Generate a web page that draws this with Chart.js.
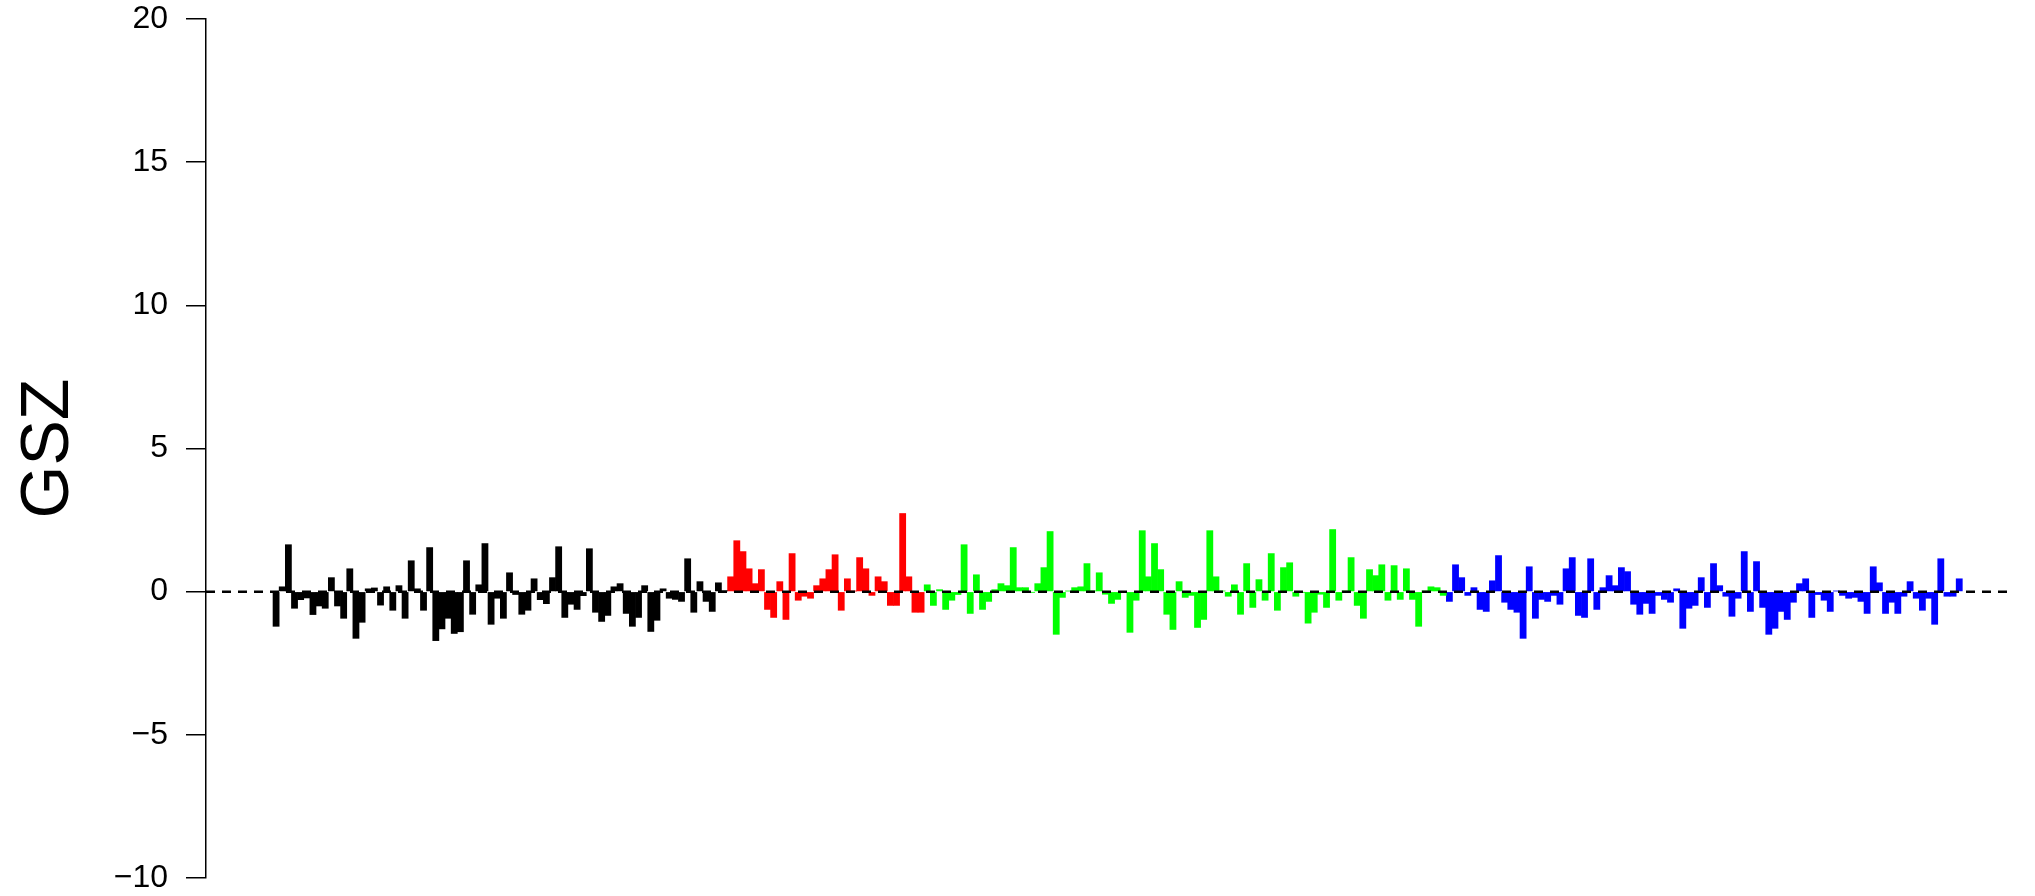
<!DOCTYPE html>
<html>
<head>
<meta charset="utf-8">
<script src="https://cdn.jsdelivr.net/npm/chart.js@4.4.1/dist/chart.umd.min.js"></script>
<style>
  html, body { margin: 0; padding: 0; background: #fff; }
  #wrap { width: 2035px; height: 896px; position: relative; }
</style>
</head>
<body>
<div id="wrap"><canvas id="chart"></canvas></div>
<script>
// ----- data (GSZ per bar) -----
const blackValues = [
  -1.21, 0.17, 1.64, -0.58, -0.28, -0.22, -0.80, -0.50, -0.58, 0.49,
  -0.50, -0.93, 0.80, -1.63, -1.07, 0.10, 0.13, -0.47, 0.17, -0.65,
  0.21, -0.93, 1.08, 0.10, -0.65, 1.54, -1.71, -1.30, -0.93, -1.46,
  -1.40, 1.08, -0.79, 0.24, 1.68, -1.14, -0.23, -0.93, 0.66, -0.10,
  -0.79, -0.65, 0.45, -0.28, -0.42, 0.49, 1.57, -0.90, -0.44, -0.62,
  -0.14, 1.50, -0.72, -1.04, -0.83, 0.17, 0.28, -0.76, -1.21, -0.90,
  0.21, -1.39, -1.00, 0.10, -0.23, -0.27, -0.34, 1.15, -0.72, 0.35,
  -0.34, -0.69, 0.31, 0.03
];
const redValues = [
  0.52, 1.78, 1.40, 0.80, 0.28, 0.77, -0.62, -0.90, 0.35, -0.97,
  1.33, -0.30, -0.16, -0.23, 0.21, 0.45, 0.77, 1.29, -0.65, 0.45,
  0.02, 1.19, 0.80, -0.13, 0.52, 0.35, -0.48, -0.48, 2.73, 0.52,
  -0.72, -0.72
];
const greenValues = [
  0.24, -0.48, 0.07, -0.62, -0.30, -0.10, 1.64, -0.76, 0.59, -0.62,
  -0.34, 0.07, 0.28, 0.21, 1.54, 0.14, 0.14, -0.02, 0.28, 0.84,
  2.10, -1.49, -0.20, 0.02, 0.14, 0.17, 0.98, 0.03, 0.66, -0.09,
  -0.41, -0.27, -0.02, -1.42, -0.30, 2.13, 0.52, 1.68, 0.77, -0.79,
  -1.32, 0.35, -0.20, -0.13, -1.25, -0.97, 2.13, 0.52, 0.02, -0.16,
  0.24, -0.79, 0.98, -0.55, 0.42, -0.30, 1.33, -0.65, 0.84, 1.01,
  -0.16, -0.02, -1.10, -0.72, -0.09, -0.55, 2.17, -0.30, 0.02, 1.19,
  -0.48, -0.93, 0.77, 0.56, 0.94, -0.30, 0.91, -0.27, 0.80, -0.27,
  -1.21, 0.02, 0.17, 0.14, -0.13
];
const blueValues = [
  -0.34, 0.94, 0.49, -0.13, 0.14, -0.62, -0.69, 0.38, 1.26, -0.37,
  -0.62, -0.72, -1.63, 0.87, -0.93, -0.27, -0.34, -0.13, -0.44, 0.80,
  1.19, -0.83, -0.90, 1.15, -0.62, 0.14, 0.56, 0.21, 0.84, 0.70,
  -0.44, -0.79, -0.41, -0.76, -0.13, -0.27, -0.37, 0.10, -1.28, -0.58,
  -0.48, 0.49, -0.55, 0.98, 0.21, -0.16, -0.86, -0.23, 1.40, -0.69,
  1.05, -0.55, -1.49, -1.28, -0.69, -0.97, -0.37, 0.28, 0.45, -0.90,
  -0.10, -0.30, -0.69, 0.02, -0.13, -0.23, -0.20, -0.34, -0.76, 0.87,
  0.31, -0.76, -0.37, -0.76, -0.16, 0.35, -0.23, -0.65, -0.23, -1.14,
  1.15, -0.16, -0.16, 0.45
];
const groupColors = ["#000000", "#ff0000", "#00ff00", "#0000ff"];
const yTicks = [-10, -5, 0, 5, 10, 15, 20];

// x range in bar units (bar i spans [i, i+1])
const X_MIN = -10.91;
const X_MAX = 282.6;

// ----- build datasets -----
function barSet(values, offset, color) {
  return {
    type: "bar",
    data: values.map((v, i) => ({ x: offset + i + 0.5, y: v })),
    backgroundColor: color,
    borderWidth: 0,
    grouped: false,
    categoryPercentage: 1,
    barPercentage: 1,
    order: 1,
  };
}

const groups = [blackValues, redValues, greenValues, blueValues];
const datasets = [];
let offset = 0;
groups.forEach((vals, g) => {
  datasets.push(barSet(vals, offset, groupColors[g]));
  offset += vals.length;
});

// dashed zero line over the bars
datasets.push({
  type: "line",
  data: [{ x: X_MIN, y: 0 }, { x: X_MAX, y: 0 }],
  borderColor: "#000",
  borderWidth: 2.5,
  borderDash: [9, 7],
  pointRadius: 0,
  fill: false,
  order: 0,
});

new Chart(document.getElementById("chart"), {
  type: "bar",
  data: { datasets },
  options: {
    responsive: true,
    maintainAspectRatio: false,
    animation: false,
    events: [],
    layout: { padding: { left: 0, right: 26, top: 19, bottom: 18 } },
    plugins: { legend: { display: false }, tooltip: { enabled: false } },
    scales: {
      x: {
        type: "linear",
        display: false,
        offset: false,
        min: X_MIN,
        max: X_MAX,
      },
      y: {
        min: yTicks[0],
        max: yTicks[yTicks.length - 1],
        afterFit: (s) => {
          s.width = 206;
          s.paddingTop = 0;
          s.paddingBottom = 0;
        },
        afterBuildTicks: (s) => { s.ticks = yTicks.map(v => ({ value: v })); },
        ticks: {
          color: "#000",
          padding: 18,
          font: { family: "'Liberation Sans', Arial, sans-serif", size: 32 },
          callback: (v) => String(v).replace("-", "\u2212"),
        },
        grid: {
          drawOnChartArea: false,
          drawTicks: true,
          tickLength: 20,
          color: "#000",
          lineWidth: 1.5,
        },
        border: { display: true, color: "#000", width: 1.5 },
        title: {
          display: true,
          text: "GSZ",
          color: "#000",
          font: { family: "'Liberation Sans', Arial, sans-serif", size: 68 },
          padding: { top: 8, bottom: 0 },
        },
      },
    },
  },
});
</script>
</body>
</html>
